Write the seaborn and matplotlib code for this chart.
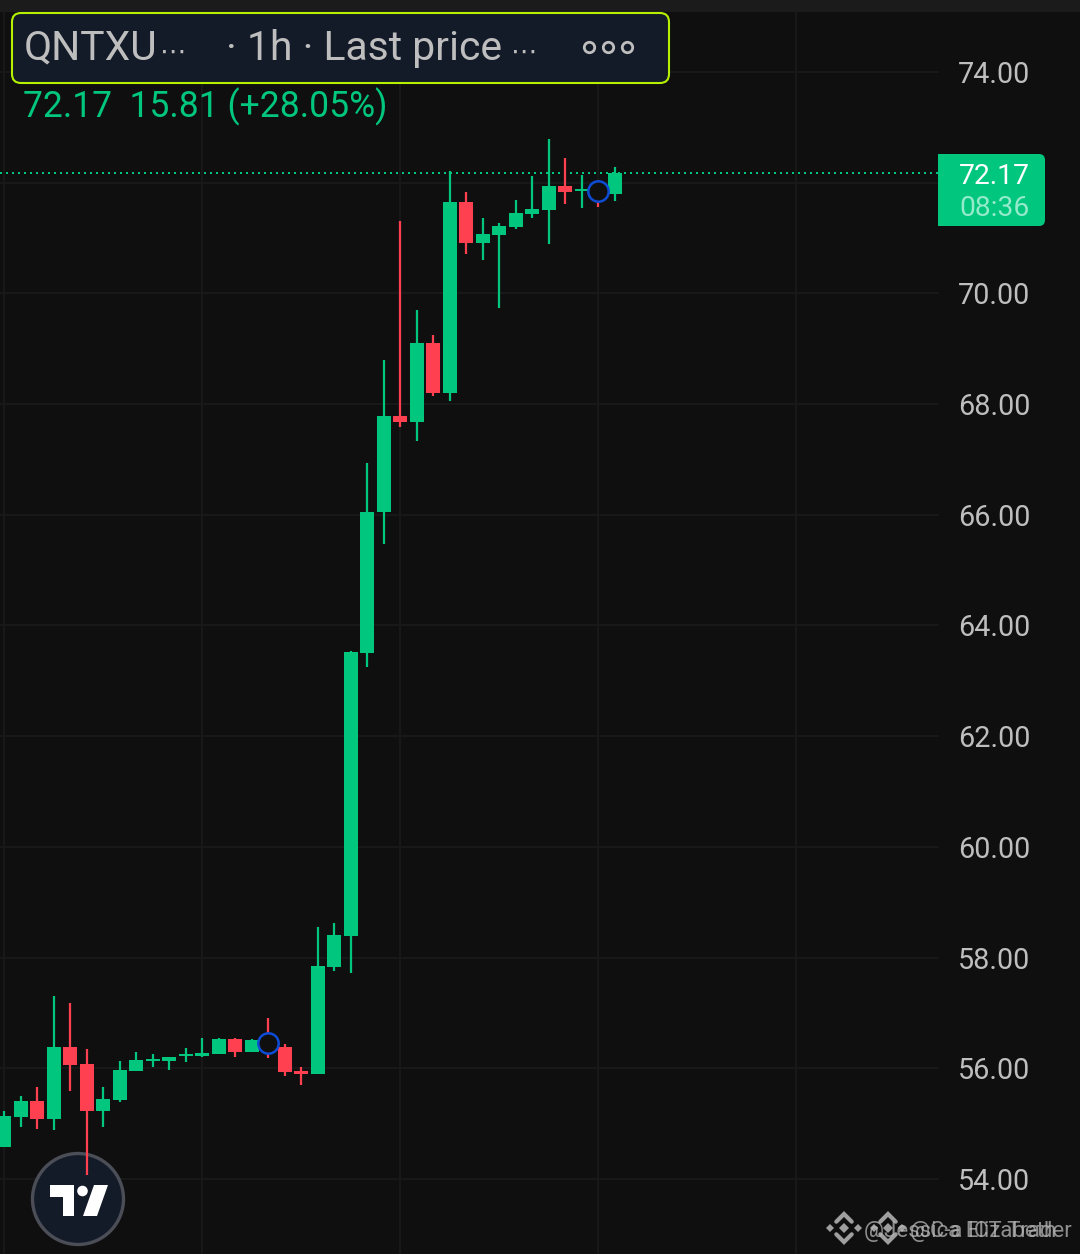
import matplotlib
matplotlib.use("Agg")
import matplotlib.pyplot as plt
import numpy as np
import pandas as pd
import seaborn as sns
from matplotlib.patches import Circle, FancyBboxPatch, Polygon, Rectangle

# hourly candles, oldest first
opens = [54.58, 55.12, 55.41, 55.08, 56.38, 56.08, 55.23, 55.43, 55.95, 56.13,
         56.13, 56.22, 56.22, 56.26, 56.53, 56.29, 56.50, 56.38, 55.95, 55.90,
         57.83, 58.39, 63.50, 66.05, 67.79, 67.68, 69.10, 68.20, 71.65, 70.91,
         71.06, 71.20, 71.43, 71.51, 71.94, 71.85, 71.90, 71.80]
highs = [55.23, 55.50, 55.66, 57.31, 57.18, 56.35, 55.66, 56.13, 56.29, 56.26,
         56.20, 56.37, 56.55, 56.55, 56.55, 56.53, 56.91, 56.44, 56.02, 58.55,
         58.63, 63.54, 66.94, 68.80, 71.31, 69.70, 69.25, 72.21, 71.83, 71.36,
         71.27, 71.69, 72.12, 72.79, 72.45, 72.14, 72.00, 72.28]
lows = [54.57, 54.94, 54.90, 54.89, 55.59, 54.07, 54.94, 55.39, 55.95, 56.02,
        55.97, 56.11, 56.20, 56.26, 56.20, 56.29, 56.19, 55.86, 55.70, 55.90,
        57.76, 57.72, 63.25, 65.47, 67.59, 67.33, 68.15, 68.06, 70.71, 70.60,
        69.74, 71.16, 71.36, 70.89, 71.62, 71.54, 71.56, 71.67]
closes = [55.14, 55.41, 55.08, 56.38, 56.06, 55.23, 55.45, 55.97, 56.15, 56.17,
          56.20, 56.26, 56.28, 56.53, 56.29, 56.51, 56.44, 55.93, 55.90, 57.85,
          58.41, 63.52, 66.05, 67.79, 67.68, 69.10, 68.20, 71.65, 70.91, 71.07,
          71.22, 71.45, 71.53, 71.94, 71.83, 71.89, 71.85, 72.17]

price_ticks = [54, 56, 58, 60, 62, 64, 66, 68, 70, 72, 74]
# 72.00 is hidden behind the last price tag
price_labels = ["54.00", "56.00", "58.00", "60.00", "62.00", "64.00", "66.00", "68.00",
                "70.00", "", "74.00"]
session_bars = [0, 12, 24, 36, 48]
marker_bars = [16, 36]
marker_prices = [56.46, 71.85]
last_price = 72.17

BG = "#0f0f0f"
GRID = "#191919"
GREEN = "#01c67e"
RED = "#ff4050"
NAVY = "#131a28"
LABEL = "#bebebe"
W, H = 1080, 1254
BAR_PX = 16.51   # pixels per candle
Y_PX = 55.35     # pixels per price unit

sns.set_theme(style="dark", rc={"axes.facecolor": BG, "figure.facecolor": BG})
plt.rcParams["font.family"] = ["Roboto", "DejaVu Sans"]

candles = pd.DataFrame({"bar": np.arange(len(opens)), "open": opens, "high": highs,
                        "low": lows, "close": closes})
candles["side"] = np.where(candles["close"] >= candles["open"], "up", "down")
wicks = candles.melt(id_vars=["bar", "side"], value_vars=["low", "high"], value_name="price")
bodies = candles.melt(id_vars=["bar", "side"], value_vars=["open", "close"], value_name="price")
palette = {"up": GREEN, "down": RED}

fig = plt.figure(figsize=(W / 100, H / 100), dpi=100)
ax = fig.add_axes([0, 0, 1, 1])
ax.set_xlim(-4 / BAR_PX, (W - 4) / BAR_PX)
ax.set_ylim(54 - (H - 1179) / Y_PX, 54 + 1179 / Y_PX)

# pixel coordinates for the app's chrome, same size as the figure
ui = fig.add_axes([0, 0, 1, 1], zorder=5)
ui.set_xlim(0, W)
ui.set_ylim(H, 0)
ui.axis("off")
px = ui.transData

for bar in session_bars:
    ax.axvline(bar, color=GRID, lw=1.4, zorder=1)
for tick in price_ticks:
    ax.axhline(tick, xmax=938 / W, color=GRID, lw=1.4, zorder=1)
ax.axhline(last_price, xmax=938 / W, color=GREEN, lw=1.44, ls=(0, (1, 2)), zorder=1.2)

# logo sits under the candles
ax.add_patch(Circle((78, 1199), 45.5, transform=px, fc=NAVY, ec="#4b4e57", lw=2.4, zorder=1.5))
logo_t = [(50, 1185), (74, 1185), (74, 1216), (63, 1216), (63, 1197), (50, 1197)]
logo_slash = [(94, 1185), (108, 1185), (97, 1216), (83, 1216)]
ax.add_patch(Polygon(logo_t, transform=px, fc="white", ec="none", zorder=1.6))
ax.add_patch(Polygon(logo_slash, transform=px, fc="white", ec="none", zorder=1.6))
ax.add_patch(Circle((82.5, 1191), 5.3, transform=px, fc="white", ec="none", zorder=1.6))

sns.lineplot(data=wicks, x="bar", y="price", hue="side", units="bar", estimator=None,
             palette=palette, lw=1.6, solid_capstyle="butt", legend=False, ax=ax, zorder=3)
sns.lineplot(data=bodies, x="bar", y="price", hue="side", units="bar", estimator=None,
             palette=palette, lw=10.1, solid_capstyle="butt", legend=False, ax=ax, zorder=3)
sns.scatterplot(x=marker_bars, y=marker_prices, s=215, color=BG, edgecolor="#0e4cd6",
                linewidth=1.8, legend=False, ax=ax, zorder=4)

ax.set_xticks([])
ax.set_yticks(price_ticks)
ax.set_yticklabels(price_labels)
ax.yaxis.tick_right()
ax.tick_params(axis="y", length=0, pad=-87.8, labelsize=20.7, labelcolor=LABEL)
ax.set_xlabel("")
ax.set_ylabel("")
sns.despine(ax=ax, left=True, bottom=True)

# top strip and legend box
ui.add_patch(Rectangle((0, 0), W, 12, fc="#1b1b1b", ec="none"))
ui.add_patch(FancyBboxPatch((20, 21), 641, 54, boxstyle="round,pad=8,rounding_size=9",
                            fc=NAVY, ec="#b4f000", lw=1.5))
ui.text(24, 60, "QNTXU", color=LABEL, fontsize=29.4, va="baseline")
ui.text(160, 60, "\u22ef", color=LABEL, fontsize=19, va="baseline", family=["DejaVu Sans"])
ui.text(226, 60, "\u00b7 1h \u00b7 Last price", color=LABEL, fontsize=29.4, va="baseline")
ui.text(511, 60, "\u22ef", color=LABEL, fontsize=19, va="baseline", family=["DejaVu Sans"])
ui.plot([589, 608, 627], [47, 47, 47], ls="none", marker="o", ms=7.5, mfc=NAVY,
        mec=LABEL, mew=2)
ui.text(23, 117, "72.17  15.81 (+28.05%)", color=GREEN, fontsize=25.6, va="baseline")

# last price tag
ui.add_patch(FancyBboxPatch((944, 160), 95, 60, boxstyle="round,pad=6,rounding_size=6",
                            fc=GREEN, ec="none"))
ui.add_patch(Rectangle((938, 154), 12, 72, fc=GREEN, ec="none"))
ui.text(994.5, 176, "72.17", color="white", fontsize=20.3, ha="center", va="center")
ui.text(994.5, 208, "08:36", color="#93ebcc", fontsize=20.3, ha="center", va="center")


def binance_mark(cx, cy, r=14):
    # centre, side diamonds and the two chevrons
    grey = "#b9b9b9"
    ui.plot([cx], [cy], ls="none", marker="D", ms=5, color=grey, mew=0, alpha=0.85)
    ui.plot([cx - r, cx + r], [cy, cy], ls="none", marker="D", ms=4, color=grey, mew=0, alpha=0.85)
    ui.plot([cx - r * 0.55, cx, cx + r * 0.55], [cy - r * 0.45, cy - r, cy - r * 0.45],
            color=grey, lw=3, alpha=0.85, solid_joinstyle="miter")
    ui.plot([cx - r * 0.55, cx, cx + r * 0.55], [cy + r * 0.45, cy + r, cy + r * 0.45],
            color=grey, lw=3, alpha=0.85, solid_joinstyle="miter")


# two watermarks stacked on top of each other
binance_mark(844, 1228)
binance_mark(888, 1228)
ui.text(864, 1237, "@Jessica Elizabeth", color="#b9b9b9", alpha=0.75, fontsize=16, va="baseline")
ui.text(910, 1237, "@C-a ICT Trader", color="#b9b9b9", alpha=0.75, fontsize=16, va="baseline")

fig.savefig("out.png", dpi=100, facecolor=BG)
